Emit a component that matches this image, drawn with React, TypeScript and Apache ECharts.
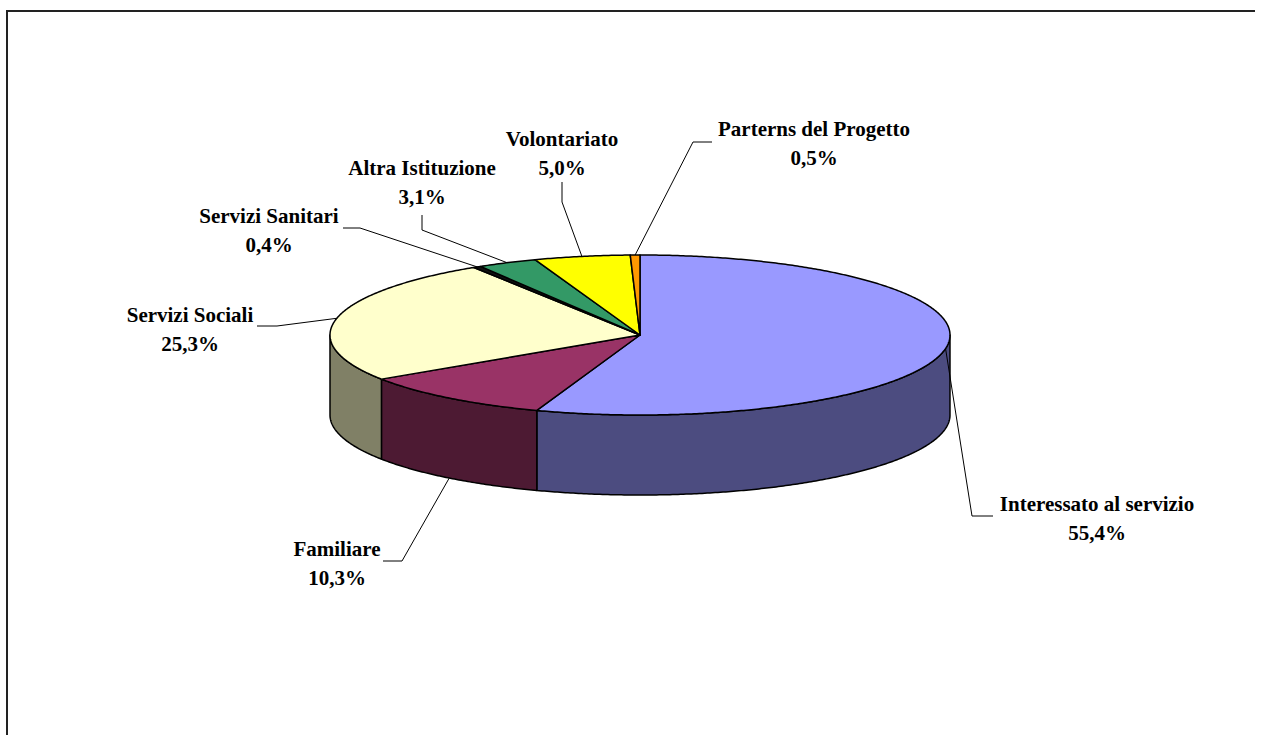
import React, { useEffect, useRef } from "react";
import * as echarts from "echarts";

const categories = [
  "Interessato al servizio",
  "Familiare",
  "Servizi Sociali",
  "Servizi Sanitari",
  "Altra Istituzione",
  "Volontariato",
  "Parterns del Progetto",
];
const values = [55.4, 10.3, 25.3, 0.4, 3.1, 5.0, 0.5];

const topColors = ["#9999FF", "#993366", "#FFFFCC", "#111111", "#339966", "#FFFF00", "#FF9900"];
const sideColors = ["#4C4C80", "#4D1A33", "#808066", "#080808", "#1A4D33", "#808000", "#804C00"];

// label block centre and leader-line elbow / end (layout only)
const labelLayout = [
  { x: 1097, y: 518, elbow: [972, 516], end: [993, 516] },
  { x: 337, y: 563, elbow: [402, 561], end: [383, 561] },
  { x: 190, y: 329, elbow: [277, 326], end: [257, 326] },
  { x: 269, y: 230, elbow: [360, 228], end: [343, 228] },
  { x: 422, y: 182, elbow: [422, 230], end: [422, 215] },
  { x: 562, y: 153, elbow: [562, 202], end: [562, 182] },
  { x: 814, y: 143, elbow: [693, 142], end: [712, 142] },
];

const CX = 640;
const CY = 335;
const RX = 310;
const RY = 80;
const DEPTH = 80;
const FONT = 'bold 21px "Liberation Serif", "DejaVu Serif", serif';

function pt(deg: number, dy = 0): number[] {
  const r = (deg * Math.PI) / 180;
  return [CX + RX * Math.sin(r), CY - RY * Math.cos(r) + dy];
}

function arc(a: number, b: number, dy = 0): number[][] {
  const pts: number[][] = [];
  const n = Math.max(2, Math.ceil(Math.abs(b - a) / 0.5));
  for (let i = 0; i <= n; i++) pts.push(pt(a + ((b - a) * i) / n, dy));
  return pts;
}

function fmt(v: number) {
  return v.toFixed(1).replace(".", ",") + "%";
}

export default function App() {
  const ref = useRef<HTMLDivElement>(null);
  useEffect(() => {
    if (!ref.current) return;
    const chart = echarts.init(ref.current, undefined, { renderer: "svg" });
    const total = values.reduce((s, v) => s + v, 0);
    const starts: number[] = [];
    let acc = 0;
    values.forEach((v) => {
      starts.push(acc);
      acc += v;
    });

    const renderItem = (params: any) => {
      const i = params.dataIndex;
      const a = (starts[i] / total) * 360;
      const b = ((starts[i] + values[i]) / total) * 360;
      const children: any[] = [];
      const lo = Math.max(a, 90);
      const hi = Math.min(b, 270);
      if (lo < hi) {
        const top = arc(lo, hi);
        const bottom = arc(hi, lo, DEPTH);
        children.push({
          type: "polygon",
          z2: 1,
          shape: { points: top.concat(bottom) },
          style: { fill: sideColors[i], stroke: "#000", lineWidth: 1.5, lineJoin: "round" },
        });
      }
      children.push({
        type: "polygon",
        z2: 2,
        shape: { points: [[CX, CY]].concat(arc(a, b)) },
        style: { fill: topColors[i], stroke: "#000", lineWidth: 1.5, lineJoin: "round" },
      });
      const mid = (a + b) / 2;
      const front = Math.cos((mid * Math.PI) / 180) < -0.3;
      const anchor = pt(mid, front ? DEPTH : 0);
      const lay = labelLayout[i];
      children.push({
        type: "polyline",
        z2: 3,
        shape: { points: [anchor, lay.elbow, lay.end] },
        style: { stroke: "#000", lineWidth: 1, fill: null },
      });
      children.push({
        type: "text",
        z2: 4,
        x: lay.x,
        y: lay.y,
        style: {
          text: categories[i] + "\n" + fmt(values[i]),
          font: FONT,
          fill: "#000",
          align: "center",
          verticalAlign: "middle",
          lineHeight: 29,
        },
      });
      return { type: "group", children };
    };

    chart.setOption({
      animation: false,
      graphic: [
        {
          type: "polyline",
          z: -10,
          shape: { points: [[7, 800], [7, 11], [1255, 11]] },
          style: { stroke: "#222", lineWidth: 2, fill: null },
        },
      ],
      series: [
        {
          type: "custom",
          coordinateSystem: "none",
          data: values.map((v, i) => [v, i]),
          renderItem,
        },
      ],
    });
    return () => chart.dispose();
  }, []);
  return (
    <div
      ref={ref}
      style={{ position: "fixed", left: 0, top: 0, width: "100%", height: "100%", background: "#fff" }}
    />
  );
}
